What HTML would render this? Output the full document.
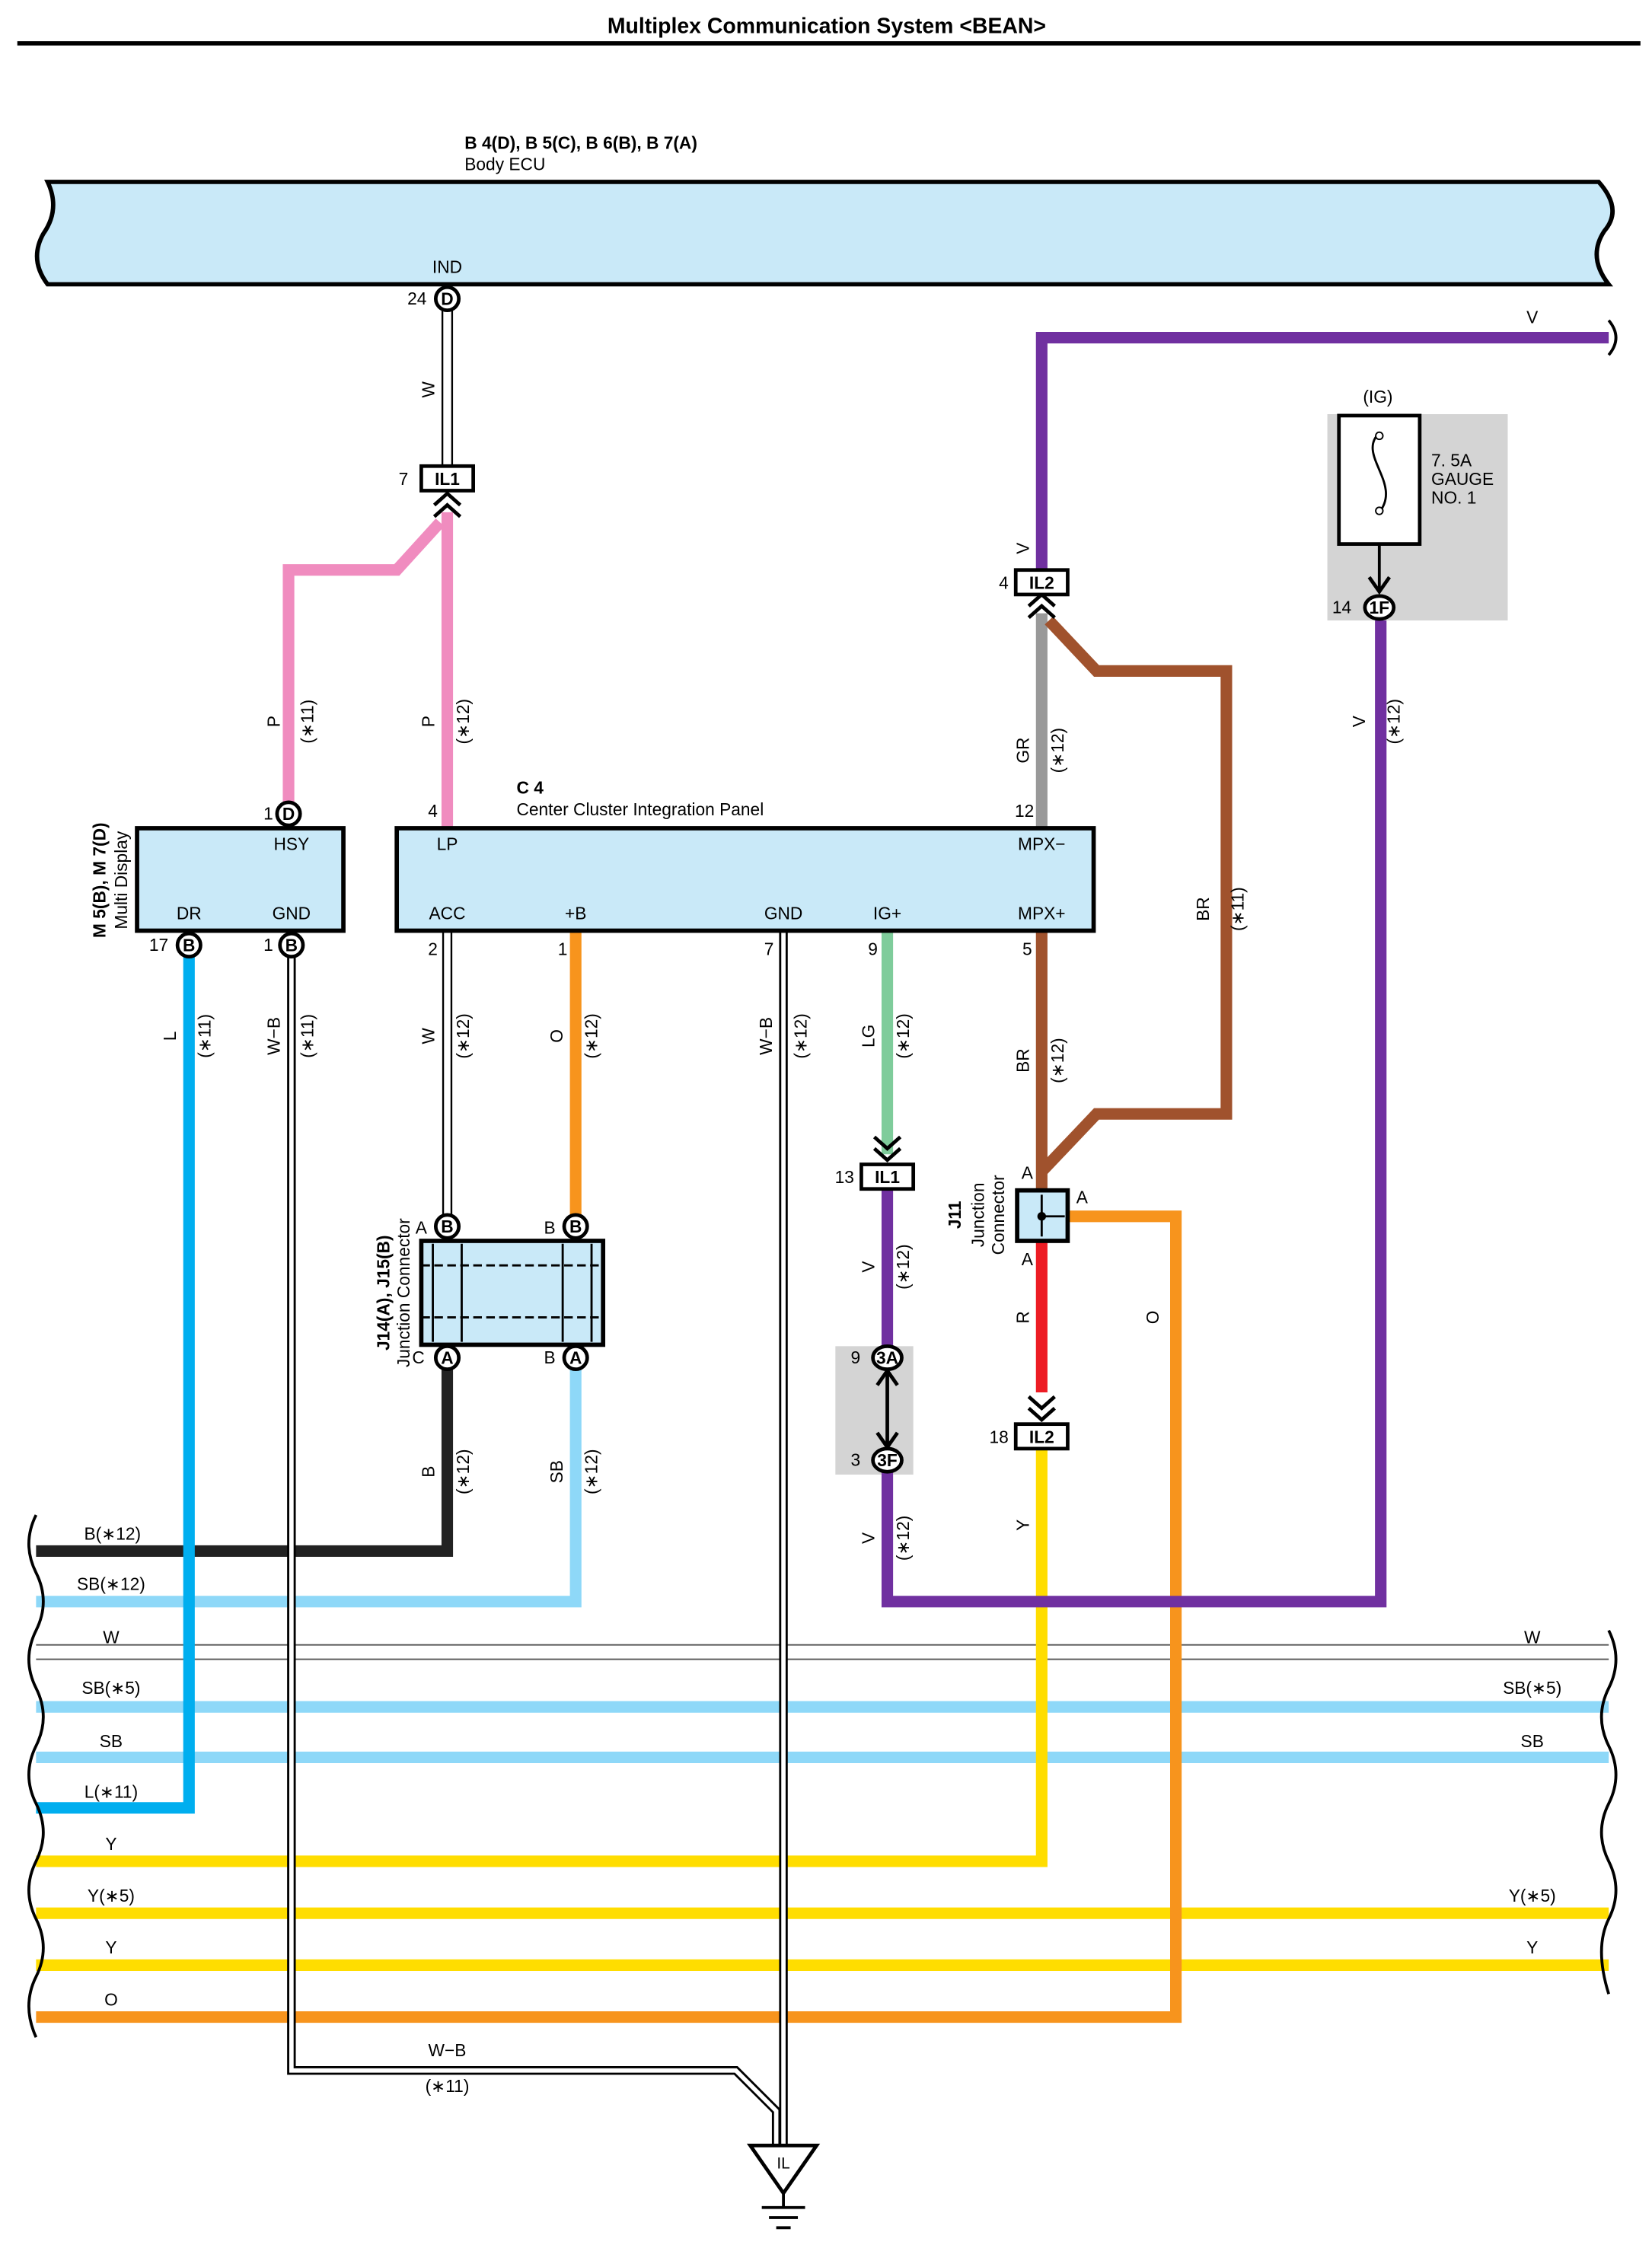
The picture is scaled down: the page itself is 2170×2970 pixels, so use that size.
<!DOCTYPE html>
<html><head><meta charset="utf-8"><style>
html,body{margin:0;padding:0;background:#fff}
svg{display:block}
text{font-family:"Liberation Sans",sans-serif;font-size:12px;fill:#000}
.b{font-weight:bold}
.p{font-size:11px;text-anchor:middle;dominant-baseline:central}
</style></head><body>
<svg width="2170" height="2970" viewBox="0 0 1145 1567" xmlns="http://www.w3.org/2000/svg">
<text x="573" y="23" class="b" style="font-size:15px" text-anchor="middle">Multiplex Communication System &lt;BEAN&gt;</text>
<line x1="12" y1="30" x2="1137" y2="30" stroke="#000" stroke-width="3"/>

<!-- Body ECU -->
<path d="M33,126 L1108,126 Q1125,145 1112,160 Q1100,178 1115,197 L33,197 Q20,180 30,162 Q42,145 33,126 Z" fill="#c9e9f8" stroke="#000" stroke-width="3"/>
<text x="322" y="103" class="b">B 4(D), B 5(C), B 6(B), B 7(A)</text>
<text x="322" y="118">Body ECU</text>
<text x="310" y="189" text-anchor="middle">IND</text>

<!-- horizontal bus -->
<g fill="none" stroke-linecap="butt">
<path d="M25,1075 H310 V941" stroke="#222" stroke-width="8"/>
<path d="M25,1110 H399 V941" stroke="#8ed8f8" stroke-width="8"/>
<line x1="25" y1="1140" x2="1115" y2="1140" stroke="#555" stroke-width="1"/>
<line x1="25" y1="1150" x2="1115" y2="1150" stroke="#555" stroke-width="1"/>
<line x1="25" y1="1183" x2="1115" y2="1183" stroke="#8ed8f8" stroke-width="8"/>
<line x1="25" y1="1218" x2="1115" y2="1218" stroke="#8ed8f8" stroke-width="8"/>
<path d="M25,1253 H131 V655" stroke="#00aeef" stroke-width="8"/>
<path d="M25,1290 H722 V1003" stroke="#ffdd00" stroke-width="8"/>
<line x1="25" y1="1326" x2="1115" y2="1326" stroke="#ffdd00" stroke-width="8"/>
<line x1="25" y1="1362" x2="1115" y2="1362" stroke="#ffdd00" stroke-width="8"/>
<path d="M25,1398 H815 V843 H740" stroke="#f7941d" stroke-width="8"/>
</g>
<!-- W-B double lines -->
<g fill="none">
<path d="M202,655 V1435 H510 L538,1463 V1490" stroke="#000" stroke-width="6"/>
<path d="M202,655 V1435 H510 L538,1463 V1490" stroke="#fff" stroke-width="3"/>
<path d="M543,645 V1490" stroke="#000" stroke-width="6"/>
<path d="M543,645 V1490" stroke="#fff" stroke-width="3"/>
<path d="M310,207 V325" stroke="#000" stroke-width="8"/>
<path d="M310,207 V325" stroke="#fff" stroke-width="5.5"/>
<path d="M310,645 V850" stroke="#000" stroke-width="7"/>
<path d="M310,645 V850" stroke="#fff" stroke-width="4.5"/>
</g>
<!-- wavy edges -->
<path d="M25,1050 Q15,1070 25,1090 Q35,1110 25,1130 Q15,1150 25,1170 Q35,1190 25,1210 Q15,1230 25,1250 Q35,1270 25,1290 Q15,1310 25,1330 Q35,1350 25,1370 Q15,1390 25,1412" fill="none" stroke="#000" stroke-width="2"/>
<path d="M1115,1130 Q1125,1150 1115,1170 Q1105,1190 1115,1210 Q1125,1230 1115,1250 Q1105,1270 1115,1290 Q1125,1310 1115,1330 Q1105,1350 1115,1382" fill="none" stroke="#000" stroke-width="2"/>
<path d="M1115,222 Q1125,234 1115,246" fill="none" stroke="#000" stroke-width="2"/>

<!-- fuse box -->
<rect x="920" y="287" width="125" height="143" fill="#d4d4d4"/>
<rect x="928" y="288" width="56" height="89" fill="#fff" stroke="#000" stroke-width="2.5"/>
<path d="M956,300 C940,315 972,335 956,355" fill="none" stroke="#000" stroke-width="1.5"/>
<circle cx="956" cy="302" r="2.5" fill="#fff" stroke="#000"/><circle cx="956" cy="354" r="2.5" fill="#fff" stroke="#000"/>
<line x1="956" y1="377" x2="956" y2="410" stroke="#000" stroke-width="2"/>
<path d="M949,400 L956,410 L963,400" fill="none" stroke="#000" stroke-width="2.5"/>
<text x="955" y="279" text-anchor="middle">(IG)</text>
<text x="992" y="323">7. 5A</text><text x="992" y="336">GAUGE</text><text x="992" y="349">NO. 1</text>

<!-- grey connector box 3A/3F -->
<rect x="579" y="933" width="54" height="89" fill="#d4d4d4"/>

<!-- wires -->
<g fill="none" stroke-linejoin="miter">
<path d="M310,355 V573" stroke="#f08cbf" stroke-width="8"/>
<path d="M305,362 L275,395 H200 V557" stroke="#f08cbf" stroke-width="8"/>
<path d="M399,645 V850" stroke="#f7941d" stroke-width="8"/>
<path d="M615,645 V800" stroke="#7fcc9b" stroke-width="8"/>
<path d="M615,824 V933" stroke="#7030a0" stroke-width="8"/>
<path d="M615,1020 V1110 H957 V430" stroke="#7030a0" stroke-width="8"/>
<path d="M1115,234 H722 V395" stroke="#7030a0" stroke-width="8"/>
<path d="M722,425 V573" stroke="#999" stroke-width="8"/>
<path d="M727,430 L760,465 H850 V772 H760 L722,812" stroke="#a0522d" stroke-width="8"/>
<path d="M722,645 V825" stroke="#a0522d" stroke-width="8"/>
<path d="M722,860 V965" stroke="#ed1c24" stroke-width="8"/>
</g>
<!-- chevrons -->
<g fill="none" stroke="#000" stroke-width="2.5">
<path d="M301,350 L310,342 L319,350 M301,358 L310,350 L319,358"/>
<path d="M713,420 L722,412 L731,420 M713,428 L722,420 L731,428"/>
<path d="M606,788 L615,796 L624,788 M606,796 L615,804 L624,796"/>
<path d="M713,968 L722,976 L731,968 M713,976 L722,984 L731,976"/>
<line x1="615" y1="950" x2="615" y2="1003"/>
<path d="M608,960 L615,950 L622,960 M608,993 L615,1003 L622,993"/>
</g>
<!-- connectors -->
<g fill="#fff" stroke="#000" stroke-width="2.5">
<rect x="292" y="323" width="36" height="17"/>
<rect x="704" y="395" width="36" height="17"/>
<rect x="597" y="807" width="36" height="17"/>
<rect x="704" y="987" width="36" height="17"/>
</g>
<g class="b" style="font-size:11px" text-anchor="middle">
<text x="310" y="336">IL1</text><text x="722" y="408">IL2</text><text x="615" y="820">IL1</text><text x="722" y="1000">IL2</text>
</g>
<text x="283" y="336" text-anchor="end">7</text><text x="699" y="408" text-anchor="end">4</text>
<text x="592" y="820" text-anchor="end">13</text><text x="699" y="1000" text-anchor="end">18</text>

<!-- Multi display -->
<rect x="95" y="574" width="143" height="71" fill="#c9e9f8" stroke="#000" stroke-width="3"/>
<text x="202" y="589" text-anchor="middle">HSY</text><text x="131" y="637" text-anchor="middle">DR</text><text x="202" y="637" text-anchor="middle">GND</text>
<text transform="translate(73,610) rotate(-90)" class="b" text-anchor="middle">M 5(B), M 7(D)</text>
<text transform="translate(88,610) rotate(-90)" text-anchor="middle">Multi Display</text>
<!-- C4 -->
<rect x="275" y="574" width="483" height="71" fill="#c9e9f8" stroke="#000" stroke-width="3"/>
<text x="358" y="550" class="b">C 4</text><text x="358" y="565">Center Cluster Integration Panel</text>
<text x="310" y="589" text-anchor="middle">LP</text><text x="722" y="589" text-anchor="middle">MPX−</text>
<text x="310" y="637" text-anchor="middle">ACC</text><text x="399" y="637" text-anchor="middle">+B</text><text x="543" y="637" text-anchor="middle">GND</text><text x="615" y="637" text-anchor="middle">IG+</text><text x="722" y="637" text-anchor="middle">MPX+</text>
<g text-anchor="middle"><text x="300" y="566">4</text><text x="710" y="566">12</text><text x="300" y="662">2</text><text x="390" y="662">1</text><text x="533" y="662">7</text><text x="605" y="662">9</text><text x="712" y="662">5</text><text x="186" y="568">1</text><text x="110" y="659">17</text><text x="186" y="659">1</text><text x="289" y="211">24</text><text x="930" y="425">14</text><text x="593" y="945">9</text><text x="593" y="1016">3</text></g>

<!-- J14/J15 -->
<rect x="292" y="860" width="126" height="72" fill="#c9e9f8" stroke="#000" stroke-width="3"/>
<g stroke="#000" stroke-width="1.5" fill="none"><line x1="300" y1="862" x2="300" y2="930"/><line x1="320" y1="862" x2="320" y2="930"/><line x1="390" y1="862" x2="390" y2="930"/><line x1="410" y1="862" x2="410" y2="930"/><line x1="292" y1="877" x2="418" y2="877" stroke-dasharray="6,3"/><line x1="292" y1="913" x2="418" y2="913" stroke-dasharray="6,3"/></g>
<text transform="translate(270,896) rotate(-90)" class="b" text-anchor="middle">J14(A), J15(B)</text>
<text transform="translate(284,896) rotate(-90)" text-anchor="middle">Junction Connector</text>
<g text-anchor="middle"><text x="292" y="855">A</text><text x="381" y="855">B</text><text x="290" y="945">C</text><text x="381" y="945">B</text></g>
<!-- J11 -->
<rect x="705" y="825" width="35" height="35" fill="#c9e9f8" stroke="#000" stroke-width="3"/>
<path d="M722,828 V857 M722,843 H738" stroke="#000" stroke-width="1.5"/><circle cx="722" cy="843" r="3"/>
<text transform="translate(666,842) rotate(-90)" class="b" text-anchor="middle">J11</text>
<text transform="translate(682,842) rotate(-90)" text-anchor="middle">Junction</text>
<text transform="translate(696,842) rotate(-90)" text-anchor="middle">Connector</text>
<text x="712" y="817" text-anchor="middle">A</text><text x="750" y="834" text-anchor="middle">A</text><text x="712" y="877" text-anchor="middle">A</text>

<!-- pins -->
<g fill="#fff" stroke="#000" stroke-width="2.5">
<circle cx="310" cy="207" r="8"/><circle cx="200" cy="564" r="8"/><circle cx="131" cy="655" r="8"/><circle cx="202" cy="655" r="8"/>
<circle cx="310" cy="850" r="8"/><circle cx="399" cy="850" r="8"/><circle cx="310" cy="941" r="8"/><circle cx="399" cy="941" r="8"/>
<ellipse cx="615" cy="941" rx="10" ry="8"/><ellipse cx="615" cy="1012" rx="10" ry="8"/><ellipse cx="956" cy="421" rx="10" ry="8"/>
</g>
<g class="p b"><text x="310" y="207">D</text><text x="200" y="564">D</text><text x="131" y="655">B</text><text x="202" y="655">B</text><text x="310" y="850">B</text><text x="399" y="850">B</text><text x="310" y="941">A</text><text x="399" y="941">A</text><text x="615" y="941">3A</text><text x="615" y="1012">3F</text><text x="956" y="421">1F</text></g>

<!-- wire labels rotated -->
<g text-anchor="middle">
<text transform="translate(301,270) rotate(-90)">W</text>
<text transform="translate(194,500) rotate(-90)">P</text><text transform="translate(217,500) rotate(-90)">(∗11)</text>
<text transform="translate(301,500) rotate(-90)">P</text><text transform="translate(325,500) rotate(-90)">(∗12)</text>
<text transform="translate(713,380) rotate(-90)">V</text>
<text transform="translate(713,520) rotate(-90)">GR</text><text transform="translate(737,520) rotate(-90)">(∗12)</text>
<text transform="translate(838,630) rotate(-90)">BR</text><text transform="translate(862,630) rotate(-90)">(∗11)</text>
<text transform="translate(946,500) rotate(-90)">V</text><text transform="translate(970,500) rotate(-90)">(∗12)</text>
<text transform="translate(122,718) rotate(-90)">L</text><text transform="translate(146,718) rotate(-90)">(∗11)</text>
<text transform="translate(194,718) rotate(-90)">W−B</text><text transform="translate(217,718) rotate(-90)">(∗11)</text>
<text transform="translate(301,718) rotate(-90)">W</text><text transform="translate(325,718) rotate(-90)">(∗12)</text>
<text transform="translate(390,718) rotate(-90)">O</text><text transform="translate(414,718) rotate(-90)">(∗12)</text>
<text transform="translate(535,718) rotate(-90)">W−B</text><text transform="translate(559,718) rotate(-90)">(∗12)</text>
<text transform="translate(606,718) rotate(-90)">LG</text><text transform="translate(630,718) rotate(-90)">(∗12)</text>
<text transform="translate(713,735) rotate(-90)">BR</text><text transform="translate(737,735) rotate(-90)">(∗12)</text>
<text transform="translate(606,878) rotate(-90)">V</text><text transform="translate(630,878) rotate(-90)">(∗12)</text>
<text transform="translate(713,913) rotate(-90)">R</text>
<text transform="translate(803,913) rotate(-90)">O</text>
<text transform="translate(301,1020) rotate(-90)">B</text><text transform="translate(325,1020) rotate(-90)">(∗12)</text>
<text transform="translate(390,1020) rotate(-90)">SB</text><text transform="translate(414,1020) rotate(-90)">(∗12)</text>
<text transform="translate(606,1066) rotate(-90)">V</text><text transform="translate(630,1066) rotate(-90)">(∗12)</text>
<text transform="translate(713,1057) rotate(-90)">Y</text>
</g>
<text x="1062" y="224" text-anchor="middle">V</text>
<!-- bus labels -->
<g text-anchor="middle">
<text x="78" y="1067">B(∗12)</text><text x="77" y="1102">SB(∗12)</text><text x="77" y="1139">W</text><text x="77" y="1174">SB(∗5)</text><text x="77" y="1211">SB</text><text x="77" y="1246">L(∗11)</text><text x="77" y="1282">Y</text><text x="77" y="1318">Y(∗5)</text><text x="77" y="1354">Y</text><text x="77" y="1390">O</text>
<text x="1062" y="1139">W</text><text x="1062" y="1174">SB(∗5)</text><text x="1062" y="1211">SB</text><text x="1062" y="1318">Y(∗5)</text><text x="1062" y="1354">Y</text>
<text x="310" y="1425">W−B</text><text x="310" y="1450">(∗11)</text>
</g>
<!-- ground -->
<path d="M520,1487 H566 L543,1520 Z" fill="#fff" stroke="#000" stroke-width="2.5"/>
<text x="543" y="1503" text-anchor="middle" style="font-size:11px">IL</text>
<path d="M543,1520 V1530 M528,1530 H558 M533,1537 H553 M538,1544 H548" stroke="#000" stroke-width="2"/>
</svg>
</body></html>
